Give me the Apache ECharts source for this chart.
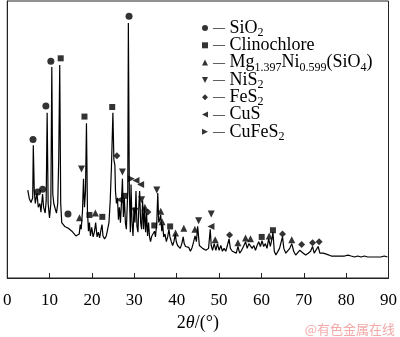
<!DOCTYPE html>
<html>
<head>
<meta charset="utf-8">
<script src="https://cdn.jsdelivr.net/npm/echarts@6/dist/echarts.min.js"></script>
<style>
html,body{margin:0;padding:0;background:#fff;}
#main{width:400px;height:337px;}
</style>
</head>
<body>
<div id="main"></div>
<script>
// XRD pattern: 2theta (deg) and intensity (arbitrary units)
var twoTheta = [4.84,5.21,5.61,6.01,6.15,6.38,6.62,7.01,7.32,7.71,7.95,8.34,8.58,8.95,9.19,9.42,9.65,9.98,10.29,10.52,10.75,10.99,11.29,11.62,11.92,12.15,12.39,12.62,12.86,13.09,13.56,14.03,14.42,14.80,15.26,15.73,16.20,16.67,16.99,17.23,17.46,17.77,18.00,18.23,18.47,18.70,18.93,19.17,19.40,19.64,19.94,20.27,20.57,20.87,21.20,21.51,21.81,22.14,22.37,22.60,22.98,23.38,23.68,24.01,24.31,24.61,24.94,25.17,25.41,25.55,25.78,26.02,26.25,26.48,26.72,26.95,27.19,27.42,27.65,27.89,28.12,28.45,28.59,28.82,29.06,29.22,29.45,29.69,29.92,30.15,30.39,30.62,30.86,31.09,31.25,31.49,31.72,31.95,32.19,32.42,32.66,32.89,33.12,33.36,33.59,33.82,34.13,34.43,34.76,34.99,35.30,35.53,35.76,36.00,36.23,36.47,36.70,36.93,37.24,37.56,37.87,38.17,38.41,38.73,39.04,39.34,39.67,39.90,40.21,40.51,40.84,41.21,41.54,41.77,42.08,42.47,42.85,43.24,43.64,44.01,44.34,44.65,44.95,45.35,46.12,46.91,47.52,47.92,48.15,48.46,48.85,49.25,49.63,50.02,50.42,50.79,51.19,51.59,51.96,52.36,52.67,53.13,53.60,54.07,54.46,54.86,55.33,55.87,56.26,56.64,57.03,57.43,57.81,58.20,58.60,58.98,59.37,59.77,60.14,60.54,60.94,61.31,61.71,62.11,62.48,62.72,63.04,63.42,63.89,64.28,64.68,64.98,65.29,65.76,66.22,66.69,67.16,67.62,68.09,68.56,69.03,69.49,69.89,70.43,71.06,71.60,72.07,72.46,72.93,73.40,73.80,74.17,74.57,74.96,75.34,75.74,76.51,77.30,78.07,78.85,79.64,80.41,80.81,81.18,81.98,82.75,83.52,84.31,85.09,85.86,86.65,87.42,88.20,88.99,89.76];
var intensity = [92,83,79,84,139,91,78,89,74,78,69,88,74,68,81,173,78,63,78,221,88,78,73,68,78,124,223,78,58,56,54,56,52,54,49,48,44,42,46,56,51,71,104,74,91,162,71,49,58,44,53,43,48,58,43,48,42,51,56,44,41,44,43,58,81,118,173,124,118,91,78,84,61,74,58,78,104,64,84,58,51,91,267,91,48,98,58,44,74,58,91,54,48,78,91,58,51,81,51,74,48,68,44,58,43,38,44,43,49,43,58,89,58,61,66,49,56,43,46,38,43,51,43,38,34,38,46,38,34,33,31,36,43,36,33,31,32,28,32,38,44,38,54,34,31,29,31,51,34,29,36,29,36,29,34,28,31,28,34,41,31,28,29,26,33,26,29,34,38,31,36,38,31,34,29,34,38,33,39,33,36,31,41,33,41,48,28,24,26,31,38,43,31,26,28,31,36,28,24,26,29,31,26,24,26,28,33,26,28,33,26,24,26,24,25,24,23,23,23,23,23,24,25,23,22,23,22,23,22,22,22,22,22,23,22];

// Peak markers per phase: [2theta, marker height]
var sio2Peaks = [[6.08,145],[7.18,90],[8.35,93],[9.12,180],[10.29,227],[14.33,67],[28.75,274]];
var clinochlorePeaks = [[12.62,230],[18.23,169],[19.40,66],[22.44,64],[24.78,179],[27.65,86],[34.71,55],[38.45,54],[60.07,43],[62.72,50]];
var mgNiSiPeaks = [[17.06,63],[20.80,68],[32.49,74],[36.23,70],[36.54,59],[39.74,47],[41.68,52],[44.30,51],[49.09,40],[54.46,37],[56.26,42],[57.43,41],[61.83,44],[67.16,40]];
var nis2Peaks = [[17.53,114],[27.19,111],[30.15,70],[31.72,82],[35.30,92],[45.18,60],[48.15,67]];
var fes2Peaks = [[25.88,128],[33.19,69],[52.48,45],[64.98,46],[69.49,35],[72.07,37],[73.63,38]];
var cusPeaks = [[26.48,82],[30.39,102],[31.49,98],[48.08,54]];
var cufes2Peaks = [[29.29,104]];

var xTicks = {min:0, max:90, interval:10};

var phaseNames = ['SiO2','Clinochlore','Mg1.397Ni0.599(SiO4)','NiS2','FeS2','CuS','CuFeS2'];
var phaseLabels = {
  'SiO2':'{d|—} SiO{s|2}',
  'Clinochlore':'{d|—} Clinochlore',
  'Mg1.397Ni0.599(SiO4)':'{d|—} Mg{s|1.397}Ni{s|0.599}(SiO{s|4})',
  'NiS2':'{d|—} NiS{s|2}',
  'FeS2':'{d|—} FeS{s|2}',
  'CuS':'{d|—} CuS',
  'CuFeS2':'{d|—} CuFeS{s|2}'
};
var phaseData = [sio2Peaks, clinochlorePeaks, mgNiSiPeaks, nis2Peaks, fes2Peaks, cusPeaks, cufes2Peaks];
var phaseSymbols = ['circle','rect','triangle','path://M0,0L10,0L5,10Z','diamond','path://M10,0L10,10L0,5Z','path://M0,0L10,5L0,10Z'];
var phaseSizes = [7,6,7,7,7,7,7];

var FONT = '"Liberation Serif","Times New Roman",serif';
var chart = echarts.init(document.getElementById('main'), null, {renderer:'canvas'});

var series = [{
  type:'line',
  data: twoTheta.map(function(x,i){return [x, intensity[i]];}),
  showSymbol:false,
  symbol:'none',
  lineStyle:{color:'#000', width:1.2},
  silent:true,
  z:2
}];
phaseNames.forEach(function(n,i){
  series.push({
    name:n,
    type:'scatter',
    data:phaseData[i],
    symbol:phaseSymbols[i],
    symbolSize:phaseSizes[i],
    itemStyle:{color:'#000'},
    z:3
  });
});

chart.setOption({
  animation:false,
  grid:{left:6, right:9, top:1, bottom:46, show:true, borderColor:'#222', borderWidth:1},
  xAxis:{
    type:'value', min:xTicks.min, max:xTicks.max, interval:xTicks.interval,
    axisLine:{show:true, lineStyle:{color:'#222', width:1}},
    axisTick:{show:true, inside:true, length:5, lineStyle:{color:'#222'}},
    axisLabel:{color:'#000', fontFamily:FONT, fontSize:17, margin:14},
    splitLine:{show:false},
    name:'{n|2}{i|θ}{n|/(°)}',
    nameLocation:'middle',
    nameGap:36,
    nameTextStyle:{
      rich:{
        n:{fontFamily:FONT, fontSize:18, color:'#000'},
        i:{fontFamily:FONT, fontSize:18, fontStyle:'italic', color:'#000'}
      }
    }
  },
  yAxis:{
    type:'value', min:0, max:290,
    axisLine:{show:true, lineStyle:{color:'#222', width:1}},
    axisTick:{show:false}, axisLabel:{show:false}, splitLine:{show:false}
  },
  legend:{
    orient:'vertical', left:197, top:12, itemGap:-4.7,
    itemWidth:6, itemHeight:6, itemTextGap:3,
    selectedMode:false,
    data: phaseNames.map(function(n,i){return {name:n, icon:phaseSymbols[i]};}),
    formatter:function(n){return phaseLabels[n];},
    textStyle:{
      fontFamily:FONT, fontSize:18, color:'#000', lineHeight:22,
      rich:{
        d:{fontFamily:FONT, fontSize:12, color:'#000', lineHeight:22},
        s:{fontFamily:FONT, fontSize:12, color:'#000', lineHeight:12, padding:[10,0,0,0]}
      }
    }
  },
  graphic:[{
    type:'text', right:5, bottom:1,
    style:{text:'@有色金属在线', fill:'#f2a9a9', font:'13px "Noto Sans CJK SC", sans-serif'}
  }],
  series:series
});
</script>
</body>
</html>
